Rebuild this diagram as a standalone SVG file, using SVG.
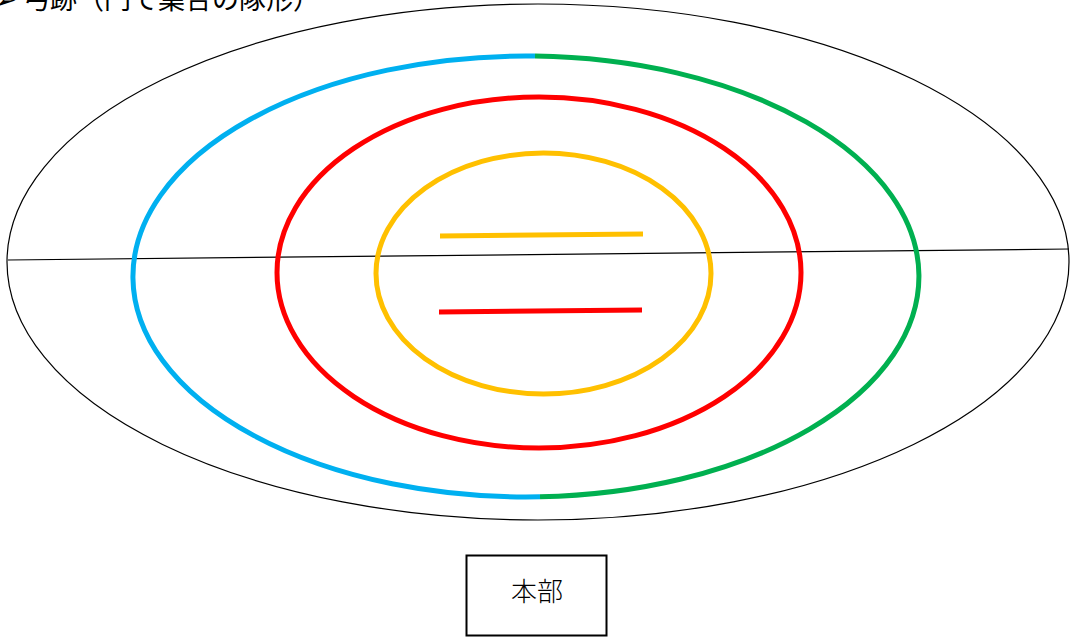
<svg xmlns="http://www.w3.org/2000/svg" width="1074" height="637" viewBox="0 0 1074 637">
<style>
.thin{fill:none;stroke:#000;stroke-width:1.2}
.thick{fill:none;stroke-width:5}
.lbl{font-family:"Noto Sans CJK JP","Noto Sans",sans-serif;fill:#000}
</style>
<rect width="1074" height="637" fill="#fff"/>
<text class="lbl" x="-6" y="9" font-size="27">➢ 弓跡（円で集合の隊形）</text>
<g id="field">
<ellipse class="thin" cx="538" cy="262" rx="531" ry="258"/>
</g>
<g id="connectors">
<line class="thin" x1="8" y1="260" x2="1069" y2="249"/>
</g>
<g id="ring-outer">
<path class="thick" stroke="#00B0F0" d="M535,56.06 A393,220.5 0 1 0 540,496.86"/>
<path class="thick" stroke="#00B050" d="M535,56.06 A393,220.5 0 0 1 540,496.86"/>
</g>
<g id="ring-middle">
<ellipse class="thick" stroke="#FF0000" cx="539" cy="272.5" rx="262" ry="175.5"/>
</g>
<g id="ring-inner">
<ellipse class="thick" stroke="#FFC000" cx="543.5" cy="273.5" rx="167.5" ry="120.5"/>
</g>
<g id="line-yellow">
<line class="thick" stroke="#FFC000" x1="440" y1="236" x2="643" y2="234"/>
</g>
<g id="line-red">
<line class="thick" stroke="#FF0000" x1="439" y1="312" x2="642" y2="310"/>
</g>
<g id="honbu">
<rect x="466.5" y="555.5" width="140" height="80" fill="#fff" stroke="#000" stroke-width="2"/>
<text class="lbl" x="537" y="601" font-size="26" font-weight="300" text-anchor="middle">本部</text>
</g>
</svg>
